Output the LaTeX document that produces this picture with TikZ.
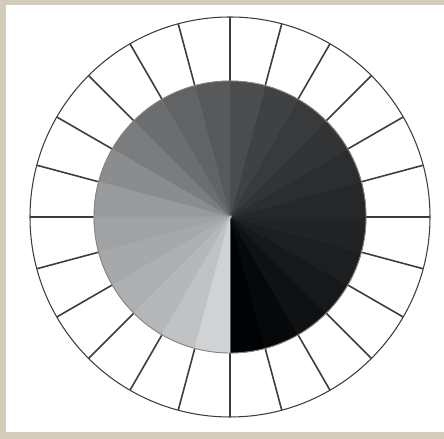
\documentclass[tikz,border=0pt]{standalone}
\usepackage{tikz}
\usetikzlibrary{calc}

\definecolor{framebeige}{RGB}{211,204,189}
\definecolor{spokegray}{RGB}{60,60,62}
\definecolor{rimgray}{RGB}{130,131,133}

\begin{document}
\begin{tikzpicture}

% ============================
% FRAME
% ============================

\useasboundingbox (0,0) rectangle (8.88,8.78);
\fill[framebeige] (0,0) rectangle (8.88,8.78);
\fill[white] (0.12,0.14) rectangle (8.88,8.68);

% ============================
% OUTER RING (24 cells)
% ============================

\coordinate (c) at (4.60,4.44);
\pgfmathsetmacro{\rout}{4.0}
\pgfmathsetmacro{\rin}{2.72}

\fill[white] (c) circle (\rout);
\draw[spokegray,line width=0.6pt] (c) circle (\rout);

\foreach \k in {0,...,23} {
  \pgfmathsetmacro{\ang}{15*\k}
  \draw[spokegray,line width=0.9pt] ($(c)+(\ang:\rin)$) -- ($(c)+(\ang:\rout)$);
}

% ============================
% INNER DISC — GREY SCALE
% ============================

% step i starts at 270 deg and turns anticlockwise, black -> light grey
\foreach \i/\g in {0/0,1/6,2/15,3/22,4/28,5/33,6/37,7/43,8/49,9/56,10/63,11/74,
                   12/87,13/97,14/107,15/122,16/138,17/152,18/160,19/166,
                   20/173,21/181,22/192,23/208} {
  \pgfmathsetmacro{\ang}{270+15*\i}
  \pgfmathtruncatemacro{\gg}{min(\g+2,255)}
  \pgfmathtruncatemacro{\gb}{min(\g+4,255)}
  \definecolor{wedgecol}{RGB}{\g,\gg,\gb}
  \path[fill=wedgecol,draw=wedgecol,line width=0.3pt] (c) -- +(\ang:\rin)
    arc[start angle=\ang, delta angle=15, radius=\rin] -- cycle;
}

\draw[rimgray,line width=0.5pt] (c) circle (\rin);

\end{tikzpicture}
\end{document}
